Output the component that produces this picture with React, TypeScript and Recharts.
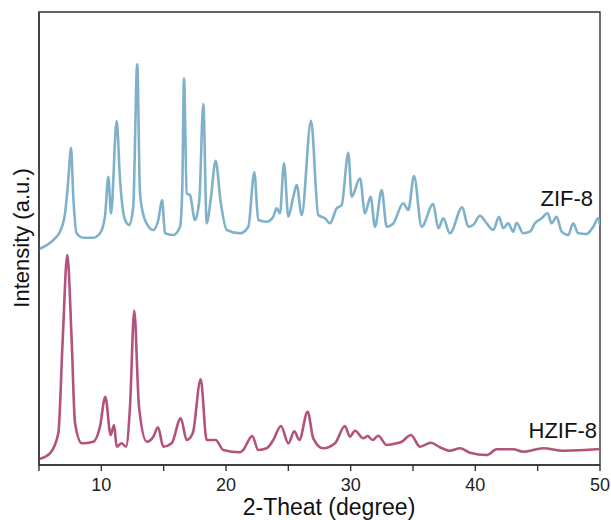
import { LineChart, Line, XAxis, YAxis, ReferenceArea } from 'recharts';

// 2θ (degree) and intensity (a.u., ZIF-8 trace is offset upward)
const zif8Theta = [
    5.0, 6.28, 6.68, 7.09, 7.35, 7.57, 7.75, 8.02, 8.55, 9.36, 9.89, 10.29, 10.56, 10.78, 11.23, 11.5, 11.9, 12.24,
    12.56, 12.88, 13.1, 13.5, 14.17, 14.57, 14.87, 15.11, 15.77, 16.31, 16.49, 16.63, 16.85, 17.11, 17.51, 17.86,
    18.18, 18.45, 18.77, 19.17, 19.57, 20.06, 21.12, 21.79, 22.27, 22.59, 23.26, 23.79, 24.06, 24.33, 24.65, 25.0,
    25.4, 25.67, 26.07, 26.82, 27.4, 27.94, 28.34, 28.88, 29.28, 29.81, 30.08, 30.75, 31.15, 31.6, 31.95, 32.49,
    32.89, 33.42, 34.22, 34.62, 35.08, 35.69, 36.62, 37.03, 37.43, 37.96, 38.95, 39.43, 39.83, 40.37, 40.91, 41.44,
    41.9, 42.24, 42.64, 43.04, 43.31, 43.84, 44.38, 44.78, 45.32, 45.8, 46.12, 46.52, 46.92, 47.45, 47.85, 48.25,
    48.93, 49.46, 49.86, 50.0,
];
const zif8Intensity = [
    216, 226.7, 233.3, 251.7, 285, 317.3, 268.3, 231.7, 227.3, 227.3, 231.7, 248.3, 288.3, 251.7, 344, 285, 245, 240,
    258.3, 401, 271.7, 245, 235, 245, 265, 231.7, 230, 238.3, 275, 386.7, 271.7, 270, 245, 265,
    361, 241.7, 265, 304.3, 263.3, 235, 231.7, 238.3, 292.7, 245, 243.3, 248.3, 256.7, 251.7, 301.7, 248.3,
    268.3, 280, 250, 344.3, 250, 246.7, 241.7, 256.7, 260, 312.3, 268.3, 286.7, 251.7, 268.3, 238.3, 275,
    238.3, 241.7, 261.7, 255, 289, 238.3, 261, 236.7, 246.7, 231.7, 257.7, 238.3, 240, 249.3, 241.7, 235,
    248.3, 236.7, 241.7, 233.3, 242.3, 231.7, 233.3, 241.7, 246.7, 251.7, 241.7, 248.3, 233.3, 230, 241.7, 231.7,
    231, 238.3, 246.7, 240,
];

const hzif8Theta = [
    5.0, 5.88, 6.55, 6.9, 7.27, 7.62, 7.89, 8.43, 9.36, 9.89, 10.32, 10.75, 11.02, 11.23, 11.63, 11.98, 12.3, 12.64,
    13.02, 13.64, 14.17, 14.55, 14.97, 15.64, 16.37, 16.85, 17.33, 17.97, 18.45, 19.17, 19.78, 21.12, 21.38, 22.1,
    22.59, 23.26, 23.79, 24.41, 25.0, 25.48, 25.88, 26.55, 27.0, 27.8, 28.74, 29.54, 29.94, 30.35, 31.01, 31.36,
    31.76, 32.21, 32.89, 33.69, 34.09, 34.84, 35.56, 36.44, 37.16, 37.96, 38.77, 39.57, 40.91, 41.71, 43.04, 43.84,
    45.45, 47.05, 49.73, 50.0,
];
const hzif8Intensity = [
    6, 11.7, 31.7, 125, 210, 125, 41.7, 21.7, 23.3, 38.3, 68.3, 30, 40, 18.3, 21.7, 18.3, 58.3, 154.3,
    58.3, 23.3, 28.3, 37.7, 18.3, 21.7, 46.7, 25, 31.7, 85.7, 25, 25, 15, 12.7, 15, 29,
    15, 16.7, 25, 39, 21.7, 33.7, 25, 53.3, 26.7, 16.7, 21.7, 39, 28.3, 34.3, 26.7, 29,
    25, 29.3, 20, 21.7, 23.3, 30, 18.3, 22.3, 17.7, 14.3, 16.7, 12.3, 10, 15.7, 15.7, 13.3,
    16.7, 14.3, 15.7, 16,
];

const xTicks = [5, 10, 15, 20, 25, 30, 35, 40, 45, 50];

const zif8 = zif8Theta.map((x, i) => ({ x, y: zif8Intensity[i] }));
const hzif8 = hzif8Theta.map((x, i) => ({ x, y: hzif8Intensity[i] }));

const FONT = 'Arial, "Liberation Sans", sans-serif';
const AXIS = '#333';

function XTitle() {
    return (
        <text x={329} y={515} textAnchor="middle" fontSize={23} fontFamily={FONT} fill="#111">
            2-Theat (degree)
        </text>
    );
}

function YTitle() {
    return (
        <text x={29} y={238} transform="rotate(-90, 29, 238)" textAnchor="middle" fontSize={22} fontFamily={FONT} fill="#111">
            Intensity (a.u.)
        </text>
    );
}

export default function App() {
    return (
        <div style={{ position: 'absolute', left: 0, top: 0, width: 611, height: 520, background: '#fff' }}>
            <LineChart width={611} height={520} data={zif8} margin={{ top: 12, right: 11, bottom: 0, left: 0 }}>
                <XAxis
                    dataKey="x"
                    type="number"
                    domain={[5, 50]}
                    ticks={xTicks}
                    allowDataOverflow
                    tickFormatter={(v: number) => (v % 10 === 0 ? String(v) : '')}
                    tick={{ fontSize: 18, fill: '#222', fontFamily: FONT }}
                    tickSize={6}
                    tickMargin={7}
                    height={55}
                    stroke={AXIS}
                    strokeWidth={1.4}
                    label={<XTitle />}
                />
                <YAxis type="number" domain={[0, 453]} tick={false} tickLine={false} width={39} stroke={AXIS} strokeWidth={1.4} label={<YTitle />} />
                <ReferenceArea x1={5} x2={50} y1={0} y2={453} fill="none" stroke={AXIS} strokeWidth={1.4} />
                <Line data={zif8} dataKey="y" type="monotone" stroke="#7fb2ca" strokeWidth={2.6} dot={false} isAnimationActive={false} />
                <Line data={hzif8} dataKey="y" type="monotone" stroke="#b3527c" strokeWidth={2.6} dot={false} isAnimationActive={false} />
                <text x={593} y={206} textAnchor="end" fontSize={22} fontFamily={FONT} fill="#111">ZIF-8</text>
                <text x={597} y={438} textAnchor="end" fontSize={22} fontFamily={FONT} fill="#111">HZIF-8</text>
            </LineChart>
        </div>
    );
}
